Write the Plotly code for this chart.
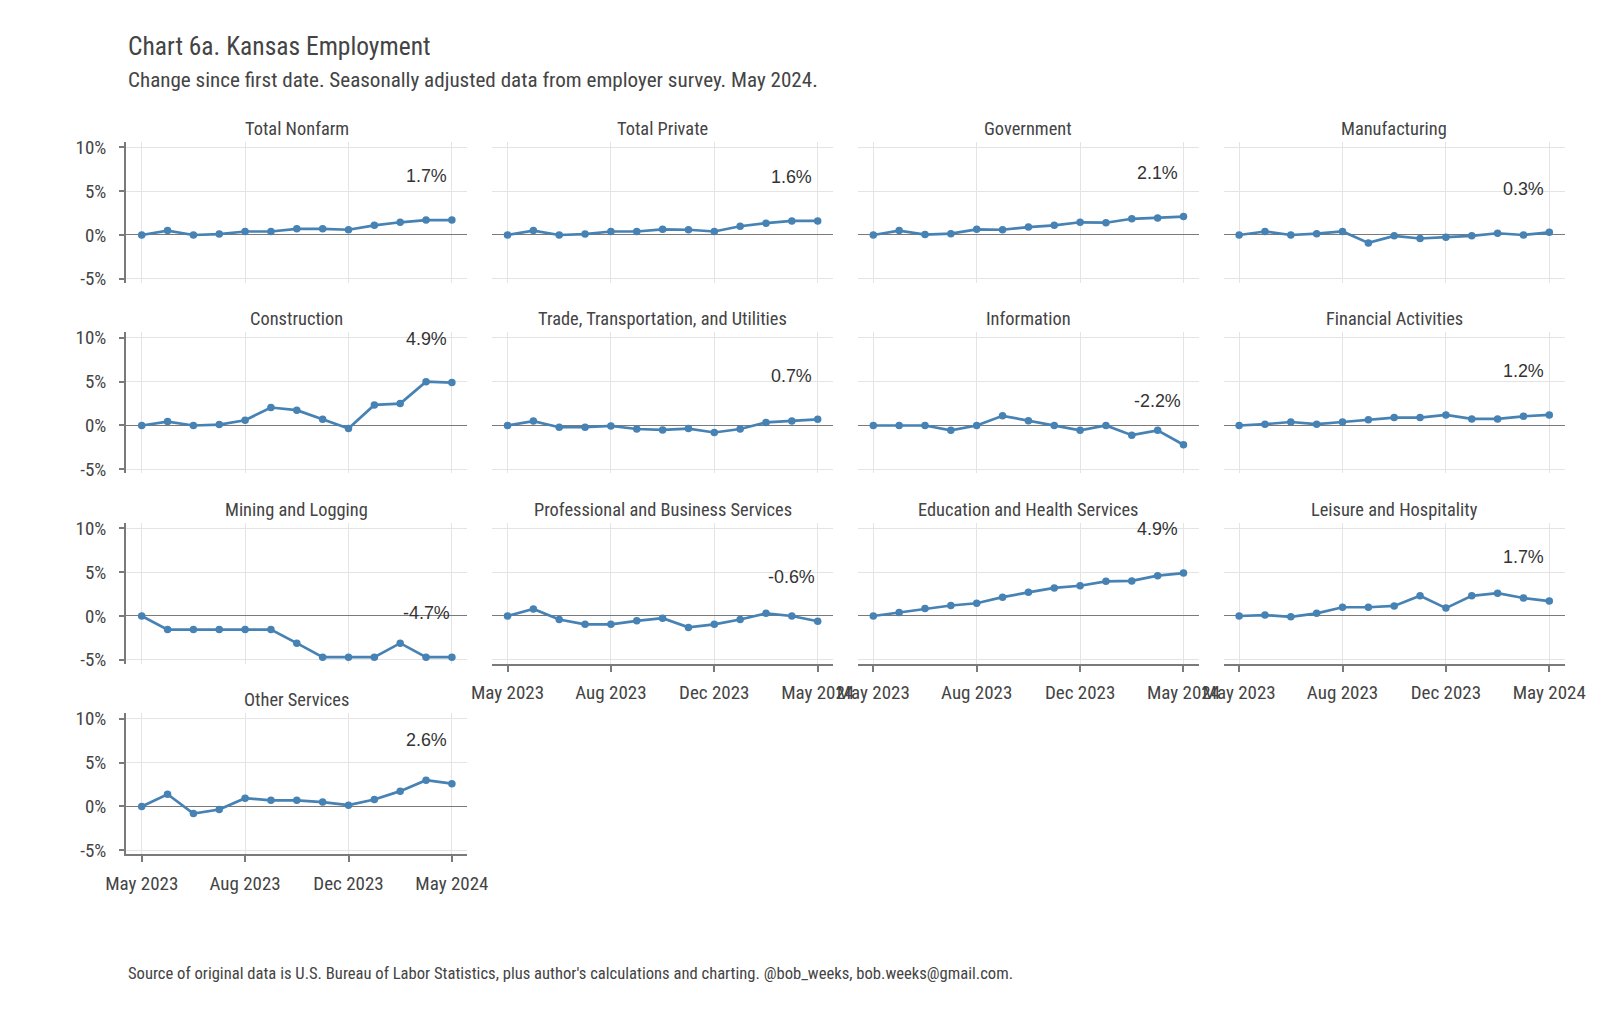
import plotly.graph_objects as go

months = ["May 2023", "Jun 2023", "Jul 2023", "Aug 2023", "Sep 2023", "Oct 2023", "Nov 2023",
          "Dec 2023", "Jan 2024", "Feb 2024", "Mar 2024", "Apr 2024", "May 2024"]
tick_vals = ["May 2023", "Sep 2023", "Jan 2024", "May 2024"]
tick_text = ["May 2023", "Aug 2023", "Dec 2023", "May 2024"]

total_nonfarm = [0, 0.5, 0, 0.1, 0.4, 0.4, 0.7, 0.7, 0.6, 1.1, 1.45, 1.7, 1.7]
total_private = [0, 0.5, 0, 0.1, 0.4, 0.4, 0.65, 0.6, 0.4, 1.0, 1.35, 1.6, 1.6]
government = [0, 0.5, 0.05, 0.15, 0.65, 0.6, 0.9, 1.1, 1.45, 1.4, 1.85, 1.95, 2.1]
manufacturing = [0, 0.4, 0, 0.15, 0.4, -0.9, -0.1, -0.4, -0.25, -0.1, 0.2, 0, 0.3]
construction = [0, 0.45, 0, 0.1, 0.6, 2.05, 1.75, 0.7, -0.35, 2.35, 2.5, 5.0, 4.9]
trade = [0, 0.5, -0.2, -0.2, -0.05, -0.4, -0.5, -0.35, -0.8, -0.4, 0.35, 0.5, 0.7]
information = [0, 0, 0, -0.55, 0, 1.1, 0.55, 0, -0.55, 0, -1.1, -0.55, -2.2]
financial = [0, 0.15, 0.4, 0.15, 0.4, 0.65, 0.9, 0.9, 1.2, 0.75, 0.75, 1.05, 1.2]
mining = [0, -1.55, -1.55, -1.55, -1.55, -1.55, -3.1, -4.7, -4.7, -4.7, -3.1, -4.7, -4.7]
professional = [0, 0.8, -0.4, -0.95, -0.95, -0.55, -0.25, -1.3, -0.95, -0.4, 0.3, 0, -0.6]
education = [0, 0.4, 0.85, 1.2, 1.45, 2.15, 2.7, 3.2, 3.45, 3.95, 4.0, 4.6, 4.9]
leisure = [0, 0.1, -0.1, 0.3, 1.0, 1.0, 1.15, 2.3, 0.9, 2.3, 2.6, 2.05, 1.7]
other = [0, 1.4, -0.8, -0.35, 0.95, 0.7, 0.7, 0.5, 0.15, 0.8, 1.75, 3.0, 2.6]

panel_names = ["Total Nonfarm", "Total Private", "Government", "Manufacturing",
               "Construction", "Trade, Transportation, and Utilities", "Information", "Financial Activities",
               "Mining and Logging", "Professional and Business Services", "Education and Health Services",
               "Leisure and Hospitality", "Other Services"]
panel_values = [total_nonfarm, total_private, government, manufacturing,
                construction, trade, information, financial,
                mining, professional, education, leisure, other]

LABEL_OFFSET = 5
LABEL_AT = "Apr 2024"

# page body has an 8px margin; size the figure so the page is exactly the window
OFF = 8
W, H = 1600 - 2 * OFF, 1018 - 2 * OFF
NARROW = "Liberation Sans Narrow, Arial Narrow, Roboto Condensed, DejaVu Sans Condensed, sans-serif"
REG = "Liberation Sans, Arial, sans-serif"
LINE_COL = "#4682B4"
AX_COL = "#7a7a7a"
GRID_COL = "#e4e4e4"


def px_x(x):
    return (x - OFF) / W


def px_y(y):
    return 1 - (y - OFF) / H


col_x0 = [126.2, 492.0, 857.8, 1223.6]
pw = 341.2
row_top = [141.8, 332.3, 522.8, 713.3]
ph = 140.8

all_vals = [v for s in panel_values for v in s]
lab_vals = [s[-1] + LABEL_OFFSET for s in panel_values]
ymin = min(all_vals + lab_vals)
ymax = max(all_vals + lab_vals)
pad = (ymax - ymin) * 0.05
yrange = [ymin - pad, ymax + pad]
n = len(months)

fig = go.Figure()
annotations = []
layout_axes = {}

n_panels = len(panel_names)
for i, (name, vals) in enumerate(zip(panel_names, panel_values)):
    r, c = divmod(i, 4)
    k = i + 1
    xa = "x" if k == 1 else f"x{k}"
    ya = "y" if k == 1 else f"y{k}"
    xkey = "xaxis" if k == 1 else f"xaxis{k}"
    ykey = "yaxis" if k == 1 else f"yaxis{k}"
    x0 = px_x(col_x0[c])
    x1 = px_x(col_x0[c] + pw)
    y1 = px_y(row_top[r])
    y0 = px_y(row_top[r] + ph)
    bottom = (i + 4 >= n_panels)
    left = (c == 0)

    fig.add_trace(go.Scatter(
        x=months, y=vals, mode="lines+markers", xaxis=xa, yaxis=ya,
        line=dict(color=LINE_COL, width=2.7),
        marker=dict(color=LINE_COL, size=7.5),
        showlegend=False, hoverinfo="x+y"))

    layout_axes[xkey] = dict(
        domain=[x0, x1], anchor=ya, type="category", automargin=False,
        categoryorder="array", categoryarray=months,
        range=[-0.6, n - 1 + 0.6],
        tickmode="array", tickvals=tick_vals, ticktext=tick_text,
        showgrid=True, gridcolor=GRID_COL, gridwidth=1,
        showline=bottom, linecolor=AX_COL, linewidth=2,
        ticks="outside" if bottom else "", ticklen=6, tickcolor=AX_COL, tickwidth=1.5,
        showticklabels=bottom, ticklabelstandoff=5,
        tickfont=dict(family=NARROW, size=19, color="#444"),
        zeroline=False, fixedrange=True)
    layout_axes[ykey] = dict(
        domain=[y0, y1], anchor=xa, range=yrange, automargin=False,
        tickmode="array", tickvals=[-5, 0, 5, 10], ticktext=["-5%", "0%", "5%", "10%"],
        showgrid=True, gridcolor=GRID_COL, gridwidth=1,
        zeroline=True, zerolinecolor=AX_COL, zerolinewidth=1.3,
        showline=left, linecolor=AX_COL, linewidth=2,
        ticks="outside" if left else "", ticklen=5, tickcolor=AX_COL, tickwidth=1.5,
        showticklabels=left, ticklabelstandoff=9,
        tickfont=dict(family=NARROW, size=19, color="#444"),
        fixedrange=True)

    annotations.append(dict(
        xref="paper", yref="paper", x=(x0 + x1) / 2, y=px_y(row_top[r] - 13.5),
        text=name, showarrow=False, xanchor="center", yanchor="middle",
        font=dict(family=NARROW, size=18.4, color="#444")))
    annotations.append(dict(
        xref=xa, yref=ya, x=LABEL_AT, y=vals[-1] + LABEL_OFFSET,
        text=f"{vals[-1]:.1f}%", showarrow=False, xanchor="center", yanchor="middle",
        font=dict(family=REG, size=17.9, color="#333")))

annotations.append(dict(xref="paper", yref="paper", x=px_x(125.5), y=px_y(46),
                        text="Chart 6a. Kansas Employment", showarrow=False,
                        xanchor="left", yanchor="middle",
                        font=dict(family=NARROW, size=25.5, color="#444")))
annotations.append(dict(xref="paper", yref="paper", x=px_x(125.5), y=px_y(79.6),
                        text="Change since first date. Seasonally adjusted data from employer survey. May 2024.",
                        showarrow=False, xanchor="left", yanchor="middle",
                        font=dict(family=NARROW, size=21.1, color="#444")))
annotations.append(dict(xref="paper", yref="paper", x=px_x(125.5), y=px_y(973.5),
                        text="Source of original data is U.S. Bureau of Labor Statistics, plus author's calculations and charting. @bob_weeks, bob.weeks@gmail.com.",
                        showarrow=False, xanchor="left", yanchor="middle",
                        font=dict(family=NARROW, size=16.6, color="#444")))

fig.update_layout(
    width=W, height=H, margin=dict(l=0, r=0, t=0, b=0),
    paper_bgcolor="white", plot_bgcolor="white",
    annotations=annotations, **layout_axes)

fig.write_html("out.html")
